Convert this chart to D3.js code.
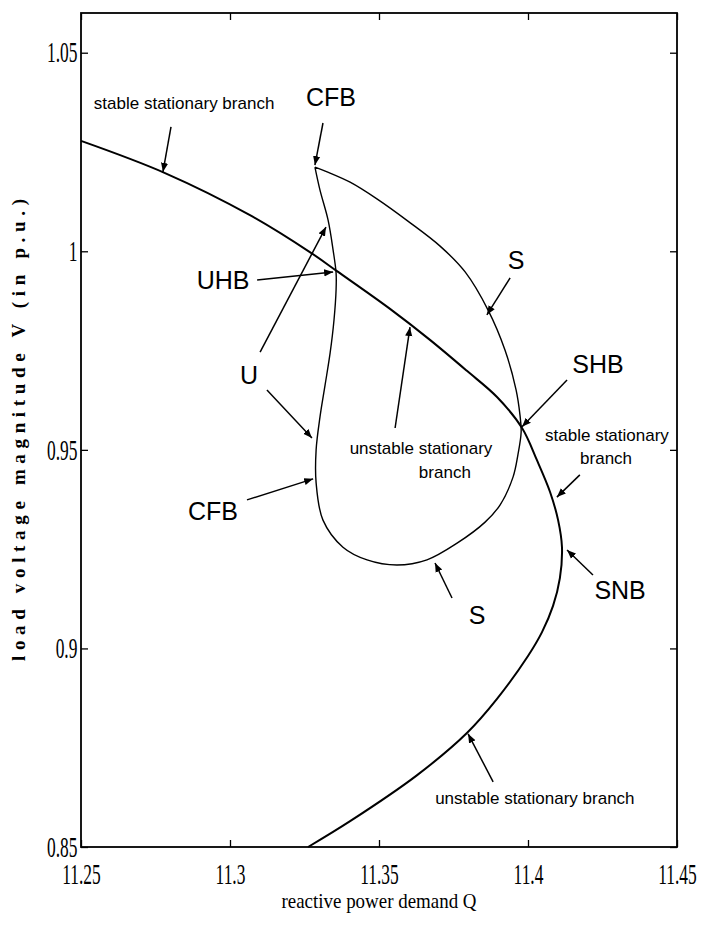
<!DOCTYPE html>
<html>
<head>
<meta charset="utf-8">
<script src="https://cdn.jsdelivr.net/npm/d3@7"></script>
<style>
  body { margin: 0; background: #fff; }
  svg { display: block; }
</style>
</head>
<body>
<svg id="chart" width="701" height="926"></svg>
<script>
// axis ticks
const xTicks = [11.25, 11.3, 11.35, 11.4, 11.45];
const yTicks = [0.85, 0.9, 0.95, 1, 1.05];

// stationary branch (top-left to bottom)
const stationaryQ = [11.2500, 11.2782, 11.3067, 11.3268, 11.3359, 11.3537, 11.3671, 11.3795, 11.3896, 11.3980,
                     11.4030, 11.4074, 11.4101, 11.4114, 11.4107, 11.4084, 11.4047, 11.4000, 11.3896, 11.3795,
                     11.3628, 11.3403, 11.3262];
const stationaryV = [1.0278, 1.0197, 1.0091, 0.9998, 0.9950, 0.9855, 0.9777, 0.9699, 0.9633, 0.9555,
                     0.9474, 0.9394, 0.9323, 0.9255, 0.9177, 0.9107, 0.9041, 0.8981, 0.8873, 0.8787,
                     0.8681, 0.8565, 0.8500];

// periodic orbit loop, starting and ending at the upper CFB tip
const loopQ = [11.3285, 11.3326, 11.3403, 11.3493, 11.3597, 11.3705, 11.3789, 11.3866, 11.3923, 11.3960,
               11.3973, 11.3977, 11.3966, 11.3950, 11.3906, 11.3856, 11.3762, 11.3661, 11.3560, 11.3460,
               11.3379, 11.3312, 11.3289, 11.3289, 11.3302, 11.3319, 11.3336, 11.3349, 11.3356, 11.3356,
               11.3346, 11.3329, 11.3302, 11.3285];
const loopV = [1.0212, 1.0200, 1.0174, 1.0132, 1.0076, 1.0013, 0.9948, 0.9852, 0.9751, 0.9651,
               0.9588, 0.9545, 0.9487, 0.9432, 0.9361, 0.9318, 0.9265, 0.9223, 0.9210, 0.9223,
               0.9255, 0.9323, 0.9417, 0.9500, 0.9583, 0.9663, 0.9744, 0.9827, 0.9903, 0.9945,
               1.0003, 1.0079, 1.0154, 1.0212];

// big point labels [text, Q, V]
const pointLabels = [
  ['CFB', 11.3339, 1.0388],
  ['UHB', 11.2977, 0.9928],
  ['U',   11.3064, 0.9688],
  ['CFB', 11.2943, 0.9346],
  ['S',   11.3960, 0.9978],
  ['SHB', 11.4235, 0.9716],
  ['SNB', 11.4309, 0.9147],
  ['S',   11.3829, 0.9084]
];

// branch labels [text, Q, V]
const branchLabels = [
  ['stable stationary branch',   11.2846, 1.0373],
  ['stable stationary',          11.4265, 0.9537],
  ['branch',                     11.4262, 0.9479],
  ['unstable stationary',        11.3641, 0.9505],
  ['branch',                     11.3721, 0.9444],
  ['unstable stationary branch', 11.4023, 0.8623]
];

// arrows [Q from, V from, Q to, V to]
const arrows = [
  [11.2802, 1.0313, 11.2775, 1.0200],
  [11.3312, 1.0323, 11.3285, 1.0217],
  [11.3091, 0.9928, 11.3346, 0.9948],
  [11.3101, 0.9746, 11.3322, 1.0061],
  [11.3124, 0.9651, 11.3275, 0.9530],
  [11.3057, 0.9374, 11.3279, 0.9427],
  [11.3940, 0.9933, 11.3862, 0.9840],
  [11.4131, 0.9676, 11.3980, 0.9558],
  [11.4174, 0.9437, 11.4097, 0.9381],
  [11.4218, 0.9185, 11.4131, 0.9248],
  [11.3554, 0.9555, 11.3604, 0.9809],
  [11.3745, 0.9127, 11.3688, 0.9215],
  [11.3883, 0.8664, 11.3799, 0.8785]
];

const svg = d3.select('#chart');
const W = +svg.attr('width'), H = +svg.attr('height');
const margin = {top: 13, right: 24, bottom: 79, left: 81};
const width = W - margin.left - margin.right;
const height = H - margin.top - margin.bottom;

const x = d3.scaleLinear().domain([11.25, 11.45]).range([0, width]);
const y = d3.scaleLinear().domain([0.85, 1.06]).range([height, 0]);

svg.append('defs').append('marker')
    .attr('id', 'head')
    .attr('viewBox', '0 -5 10 10')
    .attr('refX', 10)
    .attr('refY', 0)
    .attr('markerUnits', 'userSpaceOnUse')
    .attr('markerWidth', 9)
    .attr('markerHeight', 9)
    .attr('orient', 'auto')
  .append('path')
    .attr('d', 'M0,-4L10,0L0,4Z')
    .attr('fill', '#000');

const g = svg.append('g')
  .attr('transform', `translate(${margin.left},${margin.top})`);

const fmt = d => String(+d.toFixed(2));

// xAxis
const xAxis = g.append('g')
  .attr('transform', `translate(0,${height})`)
  .call(d3.axisBottom(x).tickValues(xTicks).tickFormat(fmt).tickSize(-7).tickSizeOuter(0).tickPadding(16));
// yAxis
const yAxis = g.append('g')
  .call(d3.axisLeft(y).tickValues(yTicks).tickFormat(fmt).tickSize(-7).tickSizeOuter(0).tickPadding(6));
// top / right ticks
g.append('g')
  .call(d3.axisTop(x).tickValues(xTicks).tickFormat('').tickSize(-7).tickSizeOuter(0));
g.append('g')
  .attr('transform', `translate(${width},0)`)
  .call(d3.axisRight(y).tickValues(yTicks).tickFormat('').tickSize(-7).tickSizeOuter(0));

g.selectAll('.domain').remove();
g.selectAll('.tick line').attr('stroke', '#000').attr('stroke-width', 1.3);
// narrow, tall tick numbers like the scanned figure
[xAxis, yAxis].forEach(a => {
  a.selectAll('text')
    .attr('font-family', '"Liberation Serif", "Times New Roman", serif')
    .attr('font-size', 29)
    .attr('fill', '#000')
    .attr('transform', 'scale(0.6,1)');
});

// frame
g.append('rect')
  .attr('width', width)
  .attr('height', height)
  .attr('fill', 'none')
  .attr('stroke', '#000')
  .attr('stroke-width', 1.8);

const line = d3.line()
  .x(d => x(d[0]))
  .y(d => y(d[1]))
  .curve(d3.curveCatmullRom.alpha(0.5));

// stationary branch
g.append('path')
  .datum(stationaryQ.map((q, i) => [q, stationaryV[i]]))
  .attr('d', line)
  .attr('fill', 'none')
  .attr('stroke', '#000')
  .attr('stroke-width', 2);

// periodic orbit loop
g.append('path')
  .datum(loopQ.map((q, i) => [q, loopV[i]]))
  .attr('d', line)
  .attr('fill', 'none')
  .attr('stroke', '#000')
  .attr('stroke-width', 1.4);

// arrows
g.selectAll('.arrow')
  .data(arrows)
  .enter().append('line')
    .attr('class', 'arrow')
    .attr('x1', d => x(d[0]))
    .attr('y1', d => y(d[1]))
    .attr('x2', d => x(d[2]))
    .attr('y2', d => y(d[3]))
    .attr('stroke', '#000')
    .attr('stroke-width', 1.5)
    .attr('marker-end', 'url(#head)');

// point labels
g.selectAll('.plabel')
  .data(pointLabels)
  .enter().append('text')
    .attr('class', 'plabel')
    .attr('x', d => x(d[1]))
    .attr('y', d => y(d[2]))
    .attr('dy', '0.36em')
    .attr('text-anchor', 'middle')
    .attr('font-family', '"Liberation Sans", Arial, sans-serif')
    .attr('font-size', 25)
    .attr('fill', '#000')
    .text(d => d[0]);

// branch labels
g.selectAll('.blabel')
  .data(branchLabels)
  .enter().append('text')
    .attr('class', 'blabel')
    .attr('x', d => x(d[1]))
    .attr('y', d => y(d[2]))
    .attr('dy', '0.35em')
    .attr('text-anchor', 'middle')
    .attr('font-family', '"Liberation Sans", Arial, sans-serif')
    .attr('font-size', 17)
    .attr('fill', '#000')
    .text(d => d[0]);

// axis titles
svg.append('text')
  .attr('x', margin.left + width / 2)
  .attr('y', 908)
  .attr('text-anchor', 'middle')
  .attr('font-family', '"Liberation Serif", "Times New Roman", serif')
  .attr('font-size', 22)
  .attr('textLength', 195)
  .attr('lengthAdjust', 'spacingAndGlyphs')
  .text('reactive power demand Q');

svg.append('text')
  .attr('transform', `translate(25,${margin.top + height / 2}) rotate(-90)`)
  .attr('text-anchor', 'middle')
  .attr('font-family', '"Liberation Serif", "Times New Roman", serif')
  .attr('font-weight', 'bold')
  .attr('font-size', 19)
  .attr('textLength', 462)
  .attr('lengthAdjust', 'spacing')
  .text('load voltage magnitude V (in p.u.)');
</script>
</body>
</html>
